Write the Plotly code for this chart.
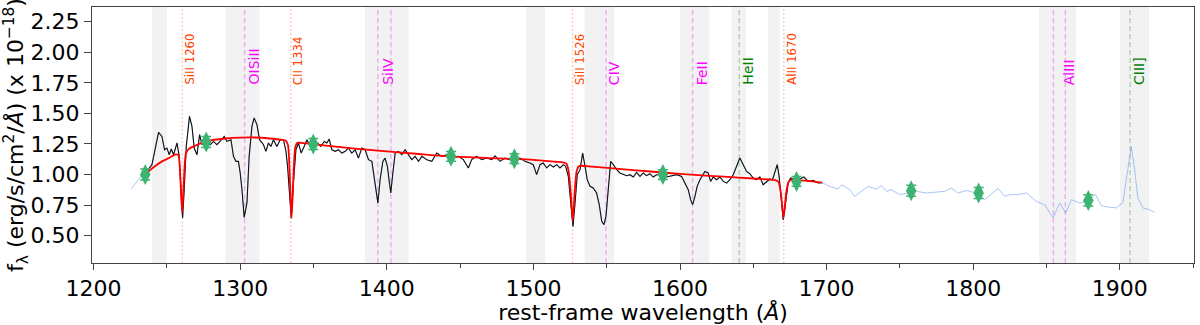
import plotly.graph_objects as go

# ---------------- data ----------------
# observed spectrum (rest-frame wavelength in Angstrom, flux in 1e-18 erg/s/cm2/A)
spec_wave = [
    1225.8, 1228.0, 1230.5, 1233.0,
    1236.4, 1239.8, 1242.1, 1244.3, 1246.6, 1248.4, 1250.0, 1251.6, 1253.0, 1254.5,
    1256.9, 1258.4, 1259.6, 1260.7, 1261.8, 1263.2, 1265.4, 1267.1, 1268.6, 1270.5,
    1272.3, 1273.9, 1276.8, 1279.6, 1281.8, 1284.1, 1286.8, 1289.1, 1290.9, 1293.7,
    1295.4, 1297.1, 1298.8, 1300.0, 1301.2, 1302.7, 1304.6, 1306.1, 1308.0, 1309.5,
    1311.4, 1313.2, 1315.9, 1317.5, 1319.3, 1320.9, 1322.7, 1325.0, 1327.3, 1329.5,
    1331.2, 1332.3, 1333.6, 1334.8, 1336.3, 1338.0, 1339.7, 1341.6, 1343.6, 1345.5,
    1347.7, 1350.0, 1352.7, 1355.0, 1357.3, 1359.1, 1360.7, 1362.5, 1364.8, 1367.0,
    1369.3, 1371.6, 1373.8, 1376.1, 1378.4, 1380.6, 1383.0, 1385.2, 1387.5, 1389.8,
    1391.3, 1392.7, 1393.9, 1395.4, 1397.3, 1398.8, 1400.4, 1401.8, 1402.7, 1404.1,
    1405.7, 1407.9, 1410.2, 1412.5, 1414.7, 1417.0, 1419.3, 1421.6, 1423.9, 1427.3,
    1430.7, 1434.1, 1437.5, 1440.9, 1445.4, 1448.8, 1452.2, 1455.6, 1457.9, 1461.3,
    1464.8, 1468.2, 1471.6, 1473.8, 1477.2, 1480.6, 1484.0, 1487.4, 1490.8, 1494.2,
    1497.6, 1499.9, 1502.2, 1504.5, 1506.7, 1509.1, 1511.3, 1513.6, 1515.9, 1518.1,
    1520.4, 1522.0, 1523.8, 1525.4, 1527.0, 1528.4, 1529.9, 1531.8, 1533.6, 1535.2,
    1536.7, 1538.6, 1540.8, 1543.1, 1544.9, 1546.6, 1548.1, 1549.5, 1551.1, 1552.7,
    1554.5, 1556.8, 1559.0, 1561.3, 1563.6, 1565.9, 1568.1, 1570.4, 1572.7, 1574.9,
    1577.2, 1579.5, 1581.7, 1584.0, 1586.3, 1590.8, 1594.3, 1597.7, 1601.1, 1603.3,
    1605.6, 1607.2, 1608.6, 1610.2, 1611.7, 1613.6, 1615.4, 1617.0, 1619.2, 1620.9,
    1622.6, 1624.9, 1627.2, 1629.5, 1631.8, 1634.0, 1636.3, 1638.6, 1640.8, 1643.1,
    1645.4, 1647.6, 1649.9, 1652.2, 1654.5, 1656.7, 1659.0, 1661.3, 1663.1, 1664.7,
    1666.3, 1667.6, 1668.8, 1670.4, 1672.0, 1673.8, 1675.4, 1678.3, 1681.7, 1684.5,
    1687.4, 1690.8, 1694.2, 1695.3,
    1698.5, 1702.2, 1707.9, 1710.2, 1715.8, 1719.2, 1723.8, 1728.3, 1734.0, 1737.4,
    1740.8, 1744.2, 1749.9, 1755.6, 1761.3, 1768.1, 1774.9, 1780.6, 1785.1, 1789.7,
    1795.4, 1802.2, 1807.8, 1811.5, 1817.0, 1821.5, 1824.9, 1830.5, 1836.3, 1843.1,
    1848.8, 1854.4, 1859.0, 1863.1, 1867.0, 1872.6, 1877.2, 1883.5, 1887.4, 1891.9,
    1897.6, 1902.1, 1905.5, 1907.8, 1910.1, 1912.3, 1915.7, 1920.3, 1923.7,
]
spec_flux = [
    0.884, 0.920, 0.960, 1.000,
    1.026, 1.081, 1.217, 1.345, 1.312, 1.203, 1.217, 1.162, 1.209, 1.162,
    1.258, 1.149, 0.876, 0.645, 0.876, 1.230, 1.476, 1.394, 1.217, 1.162,
    1.326, 1.244, 1.285, 1.244, 1.271, 1.244, 1.279, 1.312, 1.271, 1.285,
    1.149, 1.108, 1.108, 1.013, 0.876, 0.650, 0.768, 1.149, 1.394, 1.463,
    1.408, 1.285, 1.244, 1.190, 1.258, 1.230, 1.285, 1.230, 1.285, 1.285,
    1.190, 1.067, 0.849, 0.645, 0.931, 1.203, 1.258, 1.176, 1.230, 1.285,
    1.230, 1.244, 1.258, 1.230, 1.271, 1.258, 1.290, 1.203, 1.190, 1.203,
    1.176, 1.190, 1.217, 1.176, 1.203, 1.135, 1.217, 1.203, 1.122, 1.108,
    0.985, 0.849, 0.768, 0.958, 1.108, 1.135, 1.067, 0.931, 0.849, 1.013,
    1.176, 1.190, 1.162, 1.203, 1.162, 1.122, 1.149, 1.108, 1.149, 1.122,
    1.108, 1.176, 1.149, 1.162, 1.135, 1.149, 1.122, 1.054, 1.122, 1.149,
    1.122, 1.135, 1.122, 1.154, 1.108, 1.135, 1.122, 1.122, 1.135, 1.108,
    1.094, 1.081, 0.999, 1.081, 1.094, 1.054, 1.081, 1.062, 1.081, 1.054,
    1.081, 1.067, 0.985, 0.768, 0.576, 0.768, 0.999, 1.040, 1.176, 1.067,
    0.958, 0.904, 0.890, 0.849, 0.754, 0.617, 0.590, 0.658, 0.904, 1.108,
    1.081, 1.040, 1.013, 0.999, 0.991, 0.999, 0.980, 1.018, 0.985, 1.013,
    0.991, 1.007, 0.980, 0.999, 0.999, 0.980, 0.991, 0.999, 0.985, 0.931,
    0.876, 0.795, 0.754, 0.822, 0.904, 0.958, 0.991, 1.026, 1.013, 0.944,
    0.980, 0.958, 0.980, 0.944, 0.931, 0.958, 0.999, 1.067, 1.135, 1.081,
    1.026, 1.007, 0.972, 0.958, 0.980, 0.917, 0.944, 0.964, 0.958, 1.013,
    1.081, 0.985, 0.822, 0.630, 0.768, 0.931, 0.972, 0.958, 0.964, 0.980,
    0.944, 0.952, 0.931, 0.931,
    0.925, 0.903, 0.882, 0.917, 0.876, 0.822, 0.863, 0.903, 0.882, 0.909,
    0.863, 0.876, 0.835, 0.849, 0.863, 0.849, 0.854, 0.863, 0.890, 0.849,
    0.870, 0.849, 0.795, 0.830, 0.887, 0.822, 0.836, 0.836, 0.849, 0.781,
    0.754, 0.645, 0.768, 0.686, 0.795, 0.768, 0.781, 0.836, 0.745, 0.735,
    0.727, 0.772, 1.040, 1.230, 1.040, 0.808, 0.727, 0.713, 0.691,
]
fit_range = [1236.0, 1696.0]

# best-fit model
model_wave = [
    1237.0, 1242.0, 1247.0, 1252.0, 1256.0, 1257.8, 1258.8, 1259.6, 1260.4, 1261.2,
    1262.0, 1263.0, 1265.0, 1270.0, 1275.0, 1280.0, 1290.0, 1300.0, 1310.0, 1320.0,
    1328.0, 1331.0, 1332.6, 1333.6, 1334.4, 1335.0, 1335.7, 1336.5, 1337.5, 1339.0,
    1345.0, 1360.0, 1380.0, 1400.0, 1420.0, 1440.0, 1460.0, 1480.0, 1500.0, 1515.0,
    1520.0, 1522.5, 1524.0, 1525.5, 1526.8, 1528.1, 1529.5, 1531.0, 1533.0, 1540.0,
    1560.0, 1580.0, 1600.0, 1620.0, 1640.0, 1660.0, 1665.0, 1667.2, 1668.8, 1670.6,
    1672.4, 1674.0, 1676.0, 1685.0, 1697.0,
]
model_flux = [
    1.020, 1.070, 1.110, 1.140, 1.165, 1.160, 1.060, 0.860, 0.690, 0.860,
    1.060, 1.175, 1.210, 1.240, 1.265, 1.280, 1.295, 1.302, 1.303, 1.295,
    1.285, 1.278, 1.240, 1.050, 0.800, 0.645, 0.800, 1.050, 1.220, 1.260,
    1.255, 1.235, 1.210, 1.190, 1.170, 1.150, 1.140, 1.130, 1.120, 1.105,
    1.100, 1.090, 1.030, 0.850, 0.620, 0.850, 1.030, 1.068, 1.072, 1.065,
    1.045, 1.025, 1.005, 0.990, 0.975, 0.960, 0.955, 0.940, 0.850, 0.645,
    0.850, 0.940, 0.958, 0.950, 0.935,
]

# photometric points
phot_wave = [1235.2, 1276.8, 1349.8, 1443.8, 1487.0, 1588.3, 1679.5, 1757.7, 1803.7, 1878.5]
phot_flux = [1.000, 1.266, 1.250, 1.149, 1.130, 1.000, 0.944, 0.868, 0.849, 0.789]
phot_err = [0.045, 0.045, 0.045, 0.04, 0.04, 0.04, 0.04, 0.045, 0.045, 0.045]

# masked windows
band_lo = [1240, 1290, 1385, 1495, 1535, 1600, 1635, 1660, 1845, 1900]
band_hi = [1250, 1313, 1415, 1508, 1555, 1620, 1645, 1668, 1870, 1920]

# line markers: label, label position, line positions, kind
line_names = ["SiII 1260", "OISiII", "CII 1334", "SiIV", "SiII 1526", "CIV",
              "FeII", "HeII", "AlII 1670", "AlIII", "CIII]"]
line_label_x = [1260.4, 1303.0, 1334.5, 1395.0, 1526.7, 1549.0,
                1608.5, 1640.4, 1670.8, 1858.8, 1907.0]
line_pos = [[1260.4], [1303.0], [1334.5], [1393.8, 1402.8], [1526.7], [1549.5],
            [1608.5], [1640.4], [1670.8], [1854.7, 1862.8], [1907.0]]
line_kind = ["ism", "abs", "ism", "abs", "ism", "abs",
             "abs", "em", "ism", "abs", "em"]
label_y = 1.725

x_ticks = [1200, 1300, 1400, 1500, 1600, 1700, 1800, 1900]
y_ticks = [0.50, 0.75, 1.00, 1.25, 1.50, 1.75, 2.00, 2.25]
x_range = [1198.9, 1950.6]
y_range = [0.277, 2.370]

# ---------------- styles ----------------
kind_style = {
    "ism": dict(line="rgba(255,90,90,0.45)", dash="1.5px,2.5px", text="#ff4500", size=11.7),
    "abs": dict(line="rgba(238,80,238,0.45)", dash="5px,3px", text="#ff00ff", size=14),
    "em": dict(line="rgba(0,128,0,0.3)", dash="5px,3px", text="#008000", size=14),
}
FONT = "DejaVu Sans"

fig = go.Figure()

# observed spectrum (full)
fig.add_trace(go.Scatter(x=spec_wave, y=spec_flux, mode="lines",
                         line=dict(color="rgba(100,149,237,0.55)", width=1),
                         hoverinfo="skip", showlegend=False))
# fitted range (black)
fw = [w for w in spec_wave if fit_range[0] <= w <= fit_range[1]]
ff = [f for w, f in zip(spec_wave, spec_flux) if fit_range[0] <= w <= fit_range[1]]
fig.add_trace(go.Scatter(x=fw, y=ff, mode="lines",
                         line=dict(color="#111111", width=1.1),
                         showlegend=False))
# model
fig.add_trace(go.Scatter(x=model_wave, y=model_flux, mode="lines",
                         line=dict(color="#ff0000", width=1.8, shape="spline", smoothing=0.6),
                         showlegend=False))
# photometry
fig.add_trace(go.Scatter(x=phot_wave, y=phot_flux, mode="markers",
                         marker=dict(symbol="diamond-tall", size=15, color="#3cb371"),
                         error_y=dict(type="data", array=phot_err, color="#3cb371",
                                      thickness=1.5, width=5),
                         showlegend=False))

shapes = []
for lo, hi in zip(band_lo, band_hi):
    shapes.append(dict(type="rect", xref="x", yref="paper", x0=lo, x1=hi, y0=0, y1=1,
                       fillcolor="rgba(128,128,128,0.1)", line=dict(width=0), layer="below"))
annotations = []
for name, lx, pos, kind in zip(line_names, line_label_x, line_pos, line_kind):
    st = kind_style[kind]
    for p in pos:
        shapes.append(dict(type="line", xref="x", yref="paper", x0=p, x1=p, y0=0, y1=1,
                           line=dict(color=st["line"], width=1.3, dash=st["dash"]),
                           layer="below"))
    annotations.append(dict(x=lx, y=label_y, xref="x", yref="y", text=name,
                            textangle=-90, showarrow=False, xanchor="left",
                            yanchor="bottom", borderpad=0,
                            font=dict(family=FONT, size=st["size"], color=st["text"])))

axis_common = dict(showgrid=False, zeroline=False, showline=True, linecolor="#444444",
                   linewidth=1, mirror=True, ticks="outside", tickcolor="#444444",
                   tickfont=dict(family=FONT, size=22, color="black"))

fig.update_layout(
    width=1200, height=325,
    margin=dict(l=92, r=6, t=7, b=62, autoexpand=False),
    paper_bgcolor="white", plot_bgcolor="white",
    font=dict(family=FONT, color="black"),
    shapes=shapes, annotations=annotations,
    xaxis=dict(range=x_range, tickvals=x_ticks, ticktext=[str(t) for t in x_ticks],
               ticklen=6, tickwidth=1,
               minor=dict(ticks="outside", dtick=50, tick0=1200, ticklen=3.5,
                          tickcolor="#444444", tickwidth=1),
               title=dict(text="rest-frame wavelength (<i>Å</i>)",
                          font=dict(family=FONT, size=22), standoff=6),
               automargin=False, **axis_common),
    yaxis=dict(range=y_range, tickvals=y_ticks, ticktext=[f"{t:.2f}" for t in y_ticks],
               ticklen=7, tickwidth=1,
               title=dict(text="f<sub>λ</sub> (erg/s/cm<sup>2</sup>/<i>Å</i>) (x 10<sup>−18</sup>)",
                          font=dict(family=FONT, size=22), standoff=4),
               automargin=False, **axis_common),
)

fig.write_html("out.html", config={"displayModeBar": False},
               post_script="document.body.style.margin='0';document.body.style.overflow='hidden';")
